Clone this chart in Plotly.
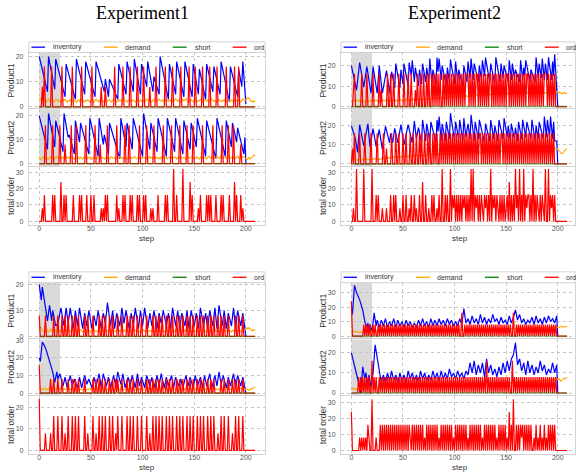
import plotly.graph_objects as go

N = 210
STEPS = list(range(N))
SHORT = [0] * N
TICK_STEPS = [0, 50, 100, 150, 200]
LEGEND_NAMES = ["inventory", "demand", "short", "ord"]
YLABELS = ["Product1", "Product2", "total order"]
TITLES = ["Experiment1", "Experiment2"]

# ================= Experiment1 (top-left) =================
A_p1_inv_x = [0,8,9,15,16,25,26,35,36,44,45,54,55,63,64,67,68,76,77,84,85,91,92,98,99,104,105,110,111,116,117,125,126,132,133,140,141,148,149,154,155,161,162,168,169,175,176,184,185,192,193,196,197,200]
A_p1_inv_y = [20,6,20,7,19,4,17,3,19,5,18,4,18,6,11,4,11,3,17,5,18,6,19,5,17,8,18,6,12,5,20,3,17,5,18,4,18,4,17,5,15,3,17,6,16,5,18,2,16,4,15,8,18,1]
A_p2_inv = [[0,20],[4,13],[8,6],[9,21],[15,7],[16,18],[23,5],[24,21],[28,11],[29,12],[34,4],[35,18],[39,9],[40,17],[48,4],[49,19],[57,3],[58,19],[62,8],[63,12],[67,4],[68,17],[78,2],[79,19],[84,7],[85,17],[90,6],[91,19],[100,3],[101,21],[107,6],[108,17],[114,5],[115,19],[123,3],[124,19],[131,5],[132,19],[139,4],[140,18],[146,6],[147,17],[152,7],[153,19],[161,3],[162,18],[171,2],[172,19],[180,3],[181,18],[186,7],[187,17],[191,9],[192,15],[198,4],[199,11],[200,0]]
A_p1_dem = [3.2,2.8,3.5,2.6,2.1,2.9,2.4,1.8,2.6,3.1, 2.2,2.7,3.4,2.5,1.9,2.3,3.0,2.6,2.1,2.8,
            2.4,1.7,2.2,2.9,2.5,3.1,2.3,1.9,2.6,2.2, 2.8,3.3,2.4,2.0,2.7,2.3,1.8,2.5,2.9,2.2,
            2.6,3.0,2.1,2.4,1.9,2.7,2.3,2.8,2.5,2.0, 2.4,2.9,2.2,1.8,2.6,3.1,2.4,2.0,2.7,2.3,
            2.8,2.2,1.9,2.5,3.0,2.6,2.1,2.4,2.9,2.3, 1.8,2.5,2.7,3.2,2.4,2.0,2.6,2.2,2.9,2.5,
            2.1,2.8,3.3,2.6,2.2,1.9,2.7,2.4,3.0,2.5, 2.2,2.8,2.4,1.9,2.6,3.1,2.5,2.1,2.7,2.3,
            2.9,2.4,2.0,2.6,3.2,2.5,2.1,2.8,2.4,1.9, 2.6,3.0,2.3,2.7,2.1,2.5,3.1,2.6,2.2,2.8,
            2.4,1.9,2.6,3.0,2.5,2.1,2.8,2.3,2.9,2.4, 2.0,2.7,3.2,2.6,2.2,2.8,2.4,1.8,2.5,2.9,
            2.3,2.7,3.3,2.5,2.1,2.6,2.2,2.9,2.4,2.0, 2.7,3.1,2.5,2.0,2.6,2.3,2.9,2.4,1.9,2.5,
            3.0,2.6,2.2,2.8,2.4,2.0,2.7,3.2,2.5,2.1, 2.6,2.3,1.8,2.4,2.9,2.5,2.1,2.7,2.3,2.8,
            2.4,1.9,2.6,3.1,2.5,2.2,2.8,2.4,2.0,2.6, 3.0,2.5,2.1,2.7,2.3,1.9,2.6,3.2,2.8,2.4,
            2.9,3.4,3.8,3.3,2.6,2.2,1.9,2.4,2.0,2.5]
A_p2_dem = [2.8,2.1,1.6,2.4,3.0,2.2,1.9,2.6,2.3,1.7, 2.5,2.9,2.0,2.4,1.8,2.7,2.2,2.5,3.1,2.3,
            1.9,2.6,2.1,2.8,2.4,1.7,2.3,2.9,2.2,2.6, 2.0,2.5,3.0,2.3,1.8,2.6,2.2,2.9,2.4,2.1,
            2.7,2.3,1.9,2.6,3.1,2.4,2.0,2.5,2.2,2.8, 2.4,1.8,2.5,2.9,2.2,2.6,2.0,2.4,3.0,2.3,
            2.1,2.7,2.4,1.9,2.5,2.8,2.2,2.6,2.0,2.4, 2.9,2.3,2.1,2.6,1.8,2.4,2.7,3.1,2.5,2.2,
            2.6,2.0,2.4,2.8,2.3,1.9,2.5,2.9,2.2,2.6, 2.1,2.4,3.0,2.5,2.0,2.3,2.8,2.4,1.9,2.6,
            2.3,2.7,2.2,2.5,1.9,2.8,2.4,3.0,2.2,2.6, 2.0,2.4,2.9,2.3,2.6,2.1,2.5,1.8,2.7,2.4,
            3.1,2.5,2.2,2.6,2.0,2.4,2.8,2.3,2.6,2.1, 2.5,2.9,2.4,1.9,2.6,2.2,2.7,3.0,2.4,2.1,
            2.6,2.3,1.8,2.5,2.9,2.4,2.2,2.7,3.2,2.5, 2.1,2.6,2.3,2.8,2.4,1.9,2.5,3.0,2.6,2.2,
            2.7,2.4,2.0,2.6,3.1,2.5,2.2,2.8,2.4,2.9, 2.3,2.6,3.2,2.5,2.1,2.8,3.4,2.6,2.3,2.9,
            2.5,2.2,2.8,3.3,2.6,2.1,2.7,3.0,2.4,2.8, 2.3,2.6,3.1,2.4,2.0,2.7,3.2,2.5,2.9,2.4,
            2.2,1.6,2.1,2.6,1.9,2.4,2.8,3.1,3.4,3.7]
A_p1_ord8 = [3,60,64,107]
A_p1_ord16 = [5,12,22,32,41,51,73,81,88,95,101,113,122,129,137,145,151,158,165,172,181,189,193]
A_p2_ord8 = [25,59,195]
A_p2_ord16 = [6,13,20,31,36,45,54,66,75,83,87,97,104,111,120,128,136,143,149,158,168,177,183,188]
A_tot8 = [3,60,62,77,108,110,154,197]
A_tot16 = [5,13,15,24,26,33,39,41,46,50,53,64,66,75,81,83,88,90,95,97,101,103,115,122,124,133,148,156,162,164,166,171,176,178,184,191,195]
A_tot24 = [21,146,189]
A_tot32 = [130,139]

# ================= Experiment2 (top-right) =================
B_p1_inv = [[0,20],[5,8],[8,21.5],[12,9.5],[15,19.5],[19,6.5],[21,19.5],[25,6.5],[27,20],[30,6.5],[34,17.5],[37,6.5],[39,17],[42,9],[43,21],[47,9],[48,18],[50,11],[51,21],[55,10],[56,21.5],[58,15],[59,22.6],[61,12],[62,19],[65,10],[66,18],[68,11],[69,21],[72,12],[73,19],[75,12],[76,23.4],[78,11],[79,18],[82,11],[83,23.9],[84,17],[85,23.4],[87,13],[88,20],[92,10],[93,19],[95,12],[96,23],[100,11],[101,22],[103,12],[104,18],[108,10],[109,20],[112,12],[113,22],[115,14],[116,23.4],[118,13],[119,21],[123,12],[124,20],[126,13],[127,22.6],[129,15],[130,23.9],[134,12],[135,21],[139,11],[140,24],[144,12],[145,21],[147,14],[148,20],[152,12],[153,22.6],[155,13],[156,21],[158,14],[159,18],[163,12],[164,22.6],[166,13],[167,19],[168,15],[169,22.6],[173,12],[174,18],[178,12],[179,24],[181,14],[182,21],[184,14],[185,23.4],[187,13],[188,21],[190,13],[191,24],[194,13],[195,22],[196,15],[197,25.5],[200,0]]
B_p2_inv = [[0,20],[4,12.8],[6,6],[8,20.5],[12,9.5],[16,21],[18,9],[21,18.5],[24,9],[27,18],[30,7.6],[33,19.7],[37,11],[38,16],[40,11],[42,18.6],[45,11],[48,20.5],[51,10],[55,20.5],[59,11],[61,22.4],[63,13],[65,19],[68,11],[69,23],[72,12],[73,21],[76,12],[77,22],[82,11],[83,23],[84,17],[85,24.8],[87,12],[88,21],[91,12],[92,22],[95,13],[96,26.5],[100,12],[101,22],[104,13],[105,23],[108,12],[109,24],[111,14],[113,21],[115,13],[116,25.7],[119,12],[120,22],[123,13],[124,23],[129,11],[130,21],[134,12],[135,23],[138,13],[139,20],[142,12],[143,23],[147,13],[148,24],[151,14],[152,20],[154,12],[155,21],[158,13],[159,19],[161,12],[162,22],[165,13],[166,23],[169,14],[170,22],[174,13],[175,23],[178,12],[179,20],[181,13],[182,22],[186,13],[187,24.8],[189,14],[190,23],[192,14],[193,24.8],[195,13],[196,22],[197,12],[199,12],[200,0]]
B_p1_dem = [3.2,2.6,3.4,2.9,2.3,3.1,2.7,3.3,2.5,3.0, 2.6,3.2,2.8,2.2,3.0,2.5,3.4,2.8,2.3,3.1,
            2.7,3.4,2.5,2.9,3.2,2.6,3.0,2.4,2.8,3.3, 2.7,3.1,2.6,3.0,3.5,2.8,2.5,3.2,2.9,2.6,
            3.2,2.8,3.4,2.9,2.6,3.3,3.0,3.6,3.1,2.8, 3.4,3.1,2.7,3.3,3.7,3.1,2.9,3.6,3.3,3.0,
            3.6,3.3,3.0,3.8,3.4,3.1,3.9,3.5,3.2,3.7, 3.4,4.0,3.6,3.3,3.9,3.5,4.1,3.7,3.5,4.1,
            3.7,4.3,3.9,3.6,4.2,4.0,4.4,4.0,3.8,4.4, 4.1,4.6,4.2,3.9,4.6,4.3,4.8,4.4,4.2,4.8,
            4.5,5.0,4.6,4.4,5.0,4.7,5.2,4.8,4.6,5.2, 4.9,5.4,5.0,4.8,5.4,5.1,5.6,5.2,5.0,5.6,
            5.3,5.8,5.4,5.2,5.8,5.5,6.0,5.6,5.4,5.9, 5.6,6.1,5.7,5.5,6.0,5.8,6.3,5.9,5.6,6.1,
            5.9,6.4,6.0,5.7,6.3,6.0,6.5,6.1,5.9,6.4, 6.1,6.6,6.2,5.9,6.5,6.2,6.7,6.3,6.0,6.6,
            6.3,6.8,6.4,6.1,6.7,6.4,6.9,6.5,6.2,6.8, 6.5,6.9,6.6,6.3,6.8,6.5,7.0,6.6,6.4,6.9,
            6.6,7.1,6.7,6.4,6.9,6.6,7.2,6.8,6.5,7.0, 6.7,7.2,6.9,6.6,7.3,7.0,7.5,7.2,6.9,7.3,
            7.0,6.7,7.1,6.5,6.2,6.5,6.9,6.3,6.5,6.7]
B_p2_dem = [3.3,2.8,2.3,2.7,2.0,2.4,1.9,2.6,2.1,2.3, 1.9,2.5,2.1,2.6,2.2,2.8,2.3,2.5,2.0,2.7,
            2.3,2.6,2.9,2.4,2.7,2.2,2.9,2.5,2.3,2.8, 2.6,3.0,2.7,3.1,3.4,2.9,3.3,3.1,3.5,3.2,
            3.4,3.8,3.3,3.6,3.2,3.8,3.5,3.4,3.9,3.7, 3.6,4.0,4.2,3.8,4.3,3.9,4.2,4.5,4.1,4.3,
            4.6,4.2,4.4,4.8,4.3,4.6,4.2,4.7,4.5,4.9, 4.6,4.3,4.8,4.6,5.0,4.5,4.8,5.1,4.7,4.9,
            4.8,5.2,4.9,4.6,5.1,5.0,5.3,4.9,5.1,5.4, 5.0,5.3,5.5,5.1,5.4,5.2,5.6,5.3,5.0,5.5,
            5.5,5.2,5.7,5.4,5.6,5.3,5.8,5.5,5.4,5.9, 5.6,5.8,5.5,6.0,5.7,5.5,5.9,5.8,6.1,5.7,
            6.0,5.7,6.2,5.9,6.3,6.0,5.8,6.2,6.1,6.4, 6.1,6.3,6.0,6.5,6.2,6.4,6.1,6.6,6.3,6.5,
            6.7,6.3,6.5,6.2,6.8,6.5,6.7,6.4,6.9,6.6, 6.8,6.5,7.0,6.7,7.1,6.7,6.9,7.3,6.9,7.1,
            7.3,7.0,7.1,7.4,7.0,7.3,7.2,7.5,7.1,7.4, 7.2,7.6,7.3,7.5,7.2,7.7,7.4,7.6,7.8,7.5,
            7.7,7.4,7.8,7.6,7.9,7.5,7.7,8.0,7.6,7.9, 7.7,8.0,7.6,8.1,7.8,8.2,7.9,8.1,8.3,8.1,
            7.6,7.2,6.4,5.6,5.4,5.7,6.6,7.2,7.6,7.9]
B_p1_ord8 = [2,29,62]
B_p1_ord16 = [3,10,15,21,27,35,38,41,46,51,55,58,64,67,70,73,75,78,80,82,84,86,89,91,93,95,97,99,101,103,105,107,109,111,112,113,115,117,119,121,122,124,126,128,130,132,134,135,137,139,141,143,145,147,149,151,152,154,156,158,160,162,164,166,168,170,171,173,175,177,179,181,183,185,187,188,189,191,193,195,197]
B_p2_ord8 = [1,34]
B_p2_ord16 = [3,8,13,19,25,31,39,43,46,50,53,57,60,63,66,68,71,74,76,79,81,83,86,88,90,92,94,96,98,100,102,104,106,108,110,112,114,116,118,120,122,124,125,127,129,131,133,135,137,139,141,143,145,146,148,150,152,154,156,158,160,162,164,166,168,170,172,174,176,178,180,182,184,186,188,190,192,194,196]
B_tot8 = [2,30,34,47,56,63,75,83,99,109,121,127,130,138,142,150,160,170,181,186,194]
B_tot16 = [24,26,38,41,43,50,53,58,61,66,72,78,80,85,91,93,98,100,102,104,106,108,110,112,114,120,122,124,126,129,131,133,137,139,141,144,146,148,151,155,157,161,165,169,171,172,174,178,180,183,185,193,195,197]
B_tot24 = [69,153]
B_tot32 = [5,12,20,88,96,116,118,135,159,163,167,176,188,191]

# ================= Experiment1 (bottom-left) =================
C_p1_inv_x = [0,2,3,6,8,10,12,13,16,18,21,24,26,28,30,33,35,37,39,42,44,46,48,51,53,55,57,60,62,64,66,69,71,73,75,78,80,82,84,87,89,91,93,96,98,100,102,105,107,109,111,114,116,118,120,123,125,127,129,132,134,136,138,141,143,145,147,150,152,154,156,159,161,163,165,168,170,172,174,177,179,181,183,186,188,190,192,195,197,200]
C_p1_inv_y = [20,14,19,12,6,12,6,10,4,5,11,4,11,5,11,3,10,4,11,3,9,4,10,3,8,4,10,3,9,5,13,4,10,3,9,4,11,5,10,3,9,4,11,3,10,4,11,3,9,4,10,3,9,5,10,4,9,3,11,4,10,3,9,4,10,3,10,4,9,3,11,4,9,3,10,4,11,3,12,4,10,3,9,4,11,3,10,4,9,0]
C_p2_inv_x = [0,1,3,5,7,9,11,13,15,17,18,20,23,25,27,30,32,34,37,39,41,44,46,48,51,53,55,58,60,62,65,67,69,72,74,76,79,81,83,86,88,90,93,95,97,99,102,104,107,109,111,114,116,118,121,123,125,128,130,132,135,137,139,142,144,146,149,151,153,156,158,160,162,165,167,170,172,174,176,178,181,183,185,188,190,192,195,197,199,200]
C_p2_inv_y = [20,18,29,27,24,20,16,12,6,12,8,11,4,9,3,10,4,8,3,9,3,10,5,8,3,9,4,11,3,11,4,9,3,10,4,12,5,11,3,9,4,10,3,11,4,9,3,10,4,9,3,10,4,11,3,9,4,10,3,9,4,8,3,10,4,9,3,10,4,9,3,10,4,11,3,10,4,12,5,10,3,9,4,11,3,10,4,9,3,0]
C_p1_dem = [2.4,3.6,3.3,2.5,1.8,2.2,1.5,2.6,2.0,1.7, 2.3,2.8,1.9,2.5,2.1,1.6,2.4,2.0,2.7,1.8,
            2.2,1.7,2.5,2.0,1.6,2.3,2.8,2.1,1.8,2.4, 2.0,1.6,2.2,2.7,2.1,1.8,2.4,2.0,1.7,2.3,
            2.6,2.0,1.7,2.2,1.9,2.5,2.1,1.6,2.3,2.0, 1.8,2.4,2.0,2.6,2.1,1.7,2.2,1.9,2.5,2.0,
            1.6,2.3,2.0,2.7,2.2,1.8,2.1,2.5,1.9,2.2, 2.0,1.7,2.4,2.1,1.8,2.6,2.2,1.9,2.3,2.0,
            1.7,2.2,2.5,2.0,1.8,2.3,2.1,1.6,2.4,2.0, 2.2,1.8,2.6,2.1,1.9,2.3,2.0,1.7,2.4,2.1,
            1.9,2.5,2.0,1.7,2.2,2.6,2.1,1.8,2.3,2.0, 2.4,1.9,2.2,2.0,1.7,2.5,2.1,1.8,2.3,2.6,
            2.0,1.8,2.2,2.4,1.9,2.1,2.6,2.0,1.7,2.3, 2.1,1.9,2.5,2.0,1.8,2.2,2.4,1.9,2.1,1.7,
            2.3,2.0,2.6,2.1,1.8,2.4,2.0,1.7,2.2,2.5, 1.9,2.1,2.4,2.0,1.8,2.3,2.6,2.1,1.9,2.2,
            2.0,1.7,2.4,2.1,2.5,1.9,2.2,2.0,1.8,2.3, 2.6,2.1,1.9,2.4,2.0,1.7,2.2,2.5,2.0,1.8,
            2.3,2.1,2.6,1.9,2.2,2.0,1.7,2.4,2.1,2.5, 1.9,2.2,2.0,2.6,2.3,1.8,2.4,2.8,2.2,2.5,
            2.9,3.3,2.8,3.4,3.0,2.4,2.1,2.6,2.3,2.7]
C_p2_dem = [2.6,3.2,2.4,1.8,2.3,2.9,2.0,1.6,2.4,2.8, 2.1,1.7,2.5,3.0,2.2,1.8,2.4,2.0,1.6,2.3,
            2.7,2.1,1.8,2.4,2.0,2.6,1.9,2.2,1.7,2.3, 2.0,2.5,1.8,2.2,2.7,2.0,1.7,2.3,2.1,1.9,
            2.4,2.0,1.6,2.2,2.6,2.1,1.8,2.3,2.0,2.5, 1.9,2.2,2.0,1.7,2.4,2.1,2.6,1.9,2.2,2.0,
            2.3,1.8,2.1,2.5,2.0,1.7,2.2,2.4,1.9,2.1, 2.5,2.0,1.8,2.3,2.1,1.9,2.6,2.2,1.8,2.4,
            2.0,2.3,1.7,2.1,2.5,2.0,1.8,2.4,2.2,1.9, 2.1,2.6,2.0,1.8,2.3,2.1,1.7,2.4,2.0,2.2,
            2.5,1.9,2.1,2.3,1.8,2.0,2.6,2.2,1.9,2.4, 2.0,1.7,2.3,2.1,2.5,1.9,2.2,2.0,1.8,2.4,
            2.1,2.6,1.9,2.2,2.0,1.7,2.4,2.1,2.3,1.9, 2.2,2.5,2.0,1.8,2.3,2.1,1.9,2.4,2.2,2.0,
            1.7,2.3,2.6,2.0,2.2,1.9,2.4,2.1,1.8,2.3, 2.5,2.0,1.8,2.2,2.4,2.0,1.7,2.3,2.1,2.6,
            1.9,2.2,2.0,2.4,1.8,2.1,2.5,2.0,2.3,1.9, 2.2,2.6,2.0,1.8,2.4,2.1,2.3,1.9,2.5,2.2,
            2.0,2.4,1.8,2.3,2.6,2.1,1.9,2.2,2.4,2.0, 2.3,1.9,2.5,2.1,2.2,2.7,2.0,2.4,2.6,2.2,
            1.8,2.4,2.1,1.6,2.3,2.0,2.6,2.9,3.4,3.6]
C_p1_ord8 = [0,6,14,18,22,25,28,32,35,38,44,47,52,58,61,64,68,71,76,80,85,88,91,95,99,104,110,113,116,119,123,126,129,133,136,139,143,146,149,153,156,159,163,166,169,173,176,179,183,190,193,197]
C_p1_ord16 = []
C_p2_ord8 = [11,14,18,22,28,32,35,38,44,52,55,58,61,64,68,71,74,76,80,85,88,91,95,99,104,107,110,113,116,119,123,126,129,133,136,139,143,146,149,153,156,159,163,166,169,176,179,183,187,190,193,197]
C_p2_ord16 = [0]
C_tot8 = [6,11,25,47,55,74,107,173,187]
C_tot16 = [14,18,22,28,32,35,38,44,52,58,61,64,68,71,76,80,85,88,91,95,99,104,110,113,116,119,123,126,129,133,136,139,143,146,149,153,156,159,163,166,169,176,179,183,190,193,197]
C_tot24 = [0]
C_tot32 = []

# ================= Experiment2 (bottom-right) =================
D_p1_inv = [[0,20],[1,15],[3,35],[5,30],[8,25],[11,18],[13,10],[15,6],[16,9],[17,3],[18,8],[20,3],[22,16],[24,7],[25,11],[27,6],[29,11],[31,7],[33,12],[35,6],[37,10],[39,7],[41,12],[43,6],[45,11],[47,7],[49,10],[51,6],[53,11],[55,7],[57,10],[59,6],[61,9],[63,6],[65,11],[67,7],[69,12],[71,7],[73,10],[75,6],[77,12],[79,7],[81,11],[83,7],[85,12],[87,8],[89,11],[91,7],[93,12],[95,8],[97,11],[99,7],[101,10],[103,7],[105,12],[107,8],[109,19],[111,9],[113,12],[115,8],[117,14],[119,9],[121,12],[123,8],[125,15],[127,9],[129,13],[131,8],[133,12],[135,9],[137,15],[139,10],[141,12],[143,8],[145,13],[147,9],[149,11],[151,8],[153,14],[155,9],[157,13],[159,18],[161,11],[163,15],[165,9],[167,12],[169,8],[171,11],[173,9],[175,13],[177,8],[179,14],[181,9],[183,12],[185,8],[187,13],[189,9],[191,14],[193,10],[195,12],[197,9],[199,14],[200,0]]
D_p2_inv = [[0,20],[2,16],[4,12],[6,8],[8,3],[9,0],[10,6],[11,13],[13,7],[14,10],[16,4],[17,9],[19,3],[21,10],[23,24],[25,18],[27,12],[29,5],[31,9],[33,5],[35,10],[37,6],[39,11],[41,6],[43,9],[45,5],[47,10],[49,6],[51,9],[53,5],[55,11],[57,7],[59,10],[61,6],[63,9],[65,5],[67,11],[69,7],[71,10],[73,6],[75,9],[77,6],[79,11],[81,7],[83,10],[85,6],[87,11],[89,7],[91,10],[93,7],[95,12],[97,8],[99,10],[101,7],[103,11],[105,8],[107,10],[109,7],[111,11],[113,9],[115,15],[117,10],[119,16],[121,9],[123,14],[125,10],[127,15],[129,8],[131,17],[133,10],[135,14],[137,9],[139,12],[141,8],[143,13],[145,9],[147,15],[149,10],[151,16],[153,11],[155,17],[157,19],[159,25],[161,14],[163,17],[165,11],[167,15],[169,9],[171,16],[173,10],[175,14],[177,9],[179,13],[181,10],[183,16],[185,11],[187,14],[189,9],[191,12],[193,10],[195,15],[197,10],[199,14],[200,0]]
D_p1_dem = [3.4,2.9,3.6,3.1,2.6,3.3,2.8,3.0,2.5,2.9, 2.7,3.2,2.6,3.0,3.5,2.8,3.4,3.1,3.7,3.3,
            3.6,3.1,3.5,2.9,3.3,3.7,3.0,3.4,2.8,3.2, 3.5,3.0,2.7,3.3,3.1,2.8,3.4,3.0,3.6,3.2,
            2.9,3.3,3.0,3.5,3.1,3.7,3.2,2.9,3.4,3.1, 3.6,3.2,3.0,3.5,3.3,3.8,3.4,3.1,3.6,3.3,
            3.7,3.4,3.2,3.8,3.5,3.3,3.9,3.6,3.4,3.8, 3.5,3.9,3.6,3.3,4.0,3.7,3.5,4.1,3.8,3.6,
            4.0,3.7,4.2,3.9,3.6,4.1,3.8,4.3,4.0,3.8, 4.2,3.9,4.4,4.1,3.8,4.3,4.0,4.5,4.2,3.9,
            4.4,4.1,4.6,4.3,4.0,4.5,4.2,4.7,4.4,4.1, 4.6,4.3,4.8,4.5,4.2,4.7,4.4,4.9,4.6,4.3,
            4.8,4.5,5.0,4.6,4.3,4.9,4.6,5.1,4.7,4.4, 4.9,4.6,5.2,4.8,4.5,5.0,4.7,5.3,4.9,4.6,
            5.1,4.8,5.4,5.0,4.7,5.2,4.9,5.5,5.1,4.8, 5.3,5.0,5.6,5.2,4.9,5.4,5.1,5.7,5.3,5.0,
            5.5,5.2,5.8,5.4,5.1,5.6,5.3,5.9,5.5,5.2, 5.7,5.4,6.0,5.6,5.3,5.8,5.5,6.1,5.7,5.4,
            5.8,5.5,6.1,5.7,5.4,5.9,5.6,6.2,5.8,5.5, 5.9,5.6,6.2,5.8,5.5,6.0,5.7,6.3,5.9,5.7,
            6.1,5.8,6.4,6.9,6.5,6.2,6.7,6.3,6.6,6.4]
D_p2_dem = [2.1,2.6,1.8,2.2,1.6,2.0,1.5,1.9,2.3,1.7, 1.5,2.0,2.4,1.8,2.2,2.6,2.0,2.3,1.9,2.5,
            2.2,2.7,2.1,2.4,2.8,2.2,2.5,2.0,2.6,2.3, 2.7,2.2,2.5,2.9,2.3,2.6,2.1,2.7,2.4,2.8,
            2.3,2.6,2.9,2.4,2.7,2.2,2.8,2.5,2.9,2.4, 2.6,3.0,2.5,2.8,3.2,2.7,3.0,2.6,3.1,2.8,
            3.2,2.9,3.3,2.8,3.1,3.4,3.0,3.3,2.9,3.4, 3.1,3.5,3.2,3.0,3.6,3.3,3.1,3.7,3.4,3.2,
            3.6,3.3,3.8,3.5,3.2,3.7,3.4,3.9,3.6,3.3, 3.8,3.5,4.0,3.7,3.4,3.9,3.6,4.1,3.8,3.5,
            4.0,3.7,4.2,3.9,3.6,4.1,3.8,4.3,4.0,3.7, 4.2,3.9,4.4,4.1,3.8,4.3,4.0,4.5,4.2,4.6,
            4.7,4.4,4.9,4.5,4.2,4.8,4.5,5.0,4.6,4.3, 4.8,4.5,5.1,4.7,4.4,5.0,4.6,5.2,4.8,4.5,
            5.0,4.7,5.3,4.9,4.6,5.2,4.8,5.4,5.0,4.7, 5.2,4.9,5.5,5.1,4.8,5.4,5.0,5.6,5.2,4.9,
            5.5,5.2,5.8,5.4,5.1,5.7,5.3,5.9,5.6,5.3, 5.8,5.5,6.1,5.7,5.4,6.0,5.6,6.2,5.9,5.6,
            6.1,5.8,6.4,6.0,5.7,6.3,5.9,6.5,6.2,5.9, 6.5,6.2,6.8,6.4,6.1,6.7,6.3,6.9,6.6,7.0,
            6.8,7.2,6.6,5.9,6.3,7.0,7.4,7.1,7.6,7.8]
D_p1_ord8 = [12,14,16,18,21,23,26,28,30,32,34,36,38,40,42,44,46,48,50,52,54,56,58,60,62,64,66,68,70,72,74,76,78,80,82,84,86,88,90,92,94,96,98,100,102,104,110,112,114,116,118,120,122,124,126,128,130,132,134,136,138,140,142,144,146,148,150,152,154,160,162,164,166,168,170,172,174,176,178,180,182,184,186,188,190,192,194,196,198]
D_p1_ord16 = [107,157]
D_p1_ord24 = [0]
D_p2_ord8 = [7,9,11,13,15,17,22,24,27,29,31,33,35,37,39,41,43,45,47,49,51,53,55,57,59,61,63,65,67,69,71,73,75,77,79,81,83,85,87,89,91,93,95,97,99,101,103,105,107,109,111,113,115,117,119,121,123,125,127,129,133,135,137,139,141,143,145,147,149,151,153,158,160,162,164,166,168,170,172,174,176,178,180,182,184,186,188,190,192,194,196,198]
D_p2_ord16 = [20,131,156]
D_tot8 = [8,10,12,14,17,24,57,71,85,99,113,127,141,151,165,177,181,185,189]
D_tot16 = [16,28,30,32,34,36,38,40,42,44,46,48,50,52,54,56,59,61,63,65,67,69,73,75,77,79,81,83,87,89,91,93,95,97,101,103,105,107,109,111,115,117,119,121,123,125,129,131,133,135,137,139,143,145,147,149,155,160,162,164,166,168,170,172,174,179,183,187,191,193,195,197]
D_tot24 = [0,153]
D_tot32 = [20,157]


# ---------------- helpers ----------------
def dense(*groups):
    arr = [0] * N
    for val, steps in groups:
        for s in steps:
            arr[s] = val
    return arr


def split(pairs):
    return [p[0] for p in pairs], [p[1] for p in pairs]


W, H = 576, 474
FONT = "Liberation Sans, Arial, sans-serif"
C_INV, C_DEM, C_SHORT, C_ORD = "#0000ff", "#ffa500", "#008000", "#ff0000"

A_p2_x, A_p2_y = split(A_p2_inv)
B_p1_x, B_p1_y = split(B_p1_inv)
B_p2_x, B_p2_y = split(B_p2_inv)
D_p1_x, D_p1_y = split(D_p1_inv)
D_p2_x, D_p2_y = split(D_p2_inv)

panels = [
    dict(L=29, R=265.5, leg=(39.3, 50), rows=[(50, 106.5), (107.5, 165), (166, 224)],
         xr=[-9.95, 218.5], title=TITLES[0], tx=143,
         yr=[[-0.6, 21.6], [-1.1, 22.7], [-2.0, 33.0]],
         inv=[(A_p1_inv_x, A_p1_inv_y), (A_p2_x, A_p2_y)],
         dem=[A_p1_dem, A_p2_dem],
         ord=[dense((8, A_p1_ord8), (16, A_p1_ord16)), dense((8, A_p2_ord8), (16, A_p2_ord16))],
         tot=dense((8, A_tot8), (16, A_tot16), (24, A_tot24), (32, A_tot32))),
    dict(L=341.7, R=576, leg=(39.3, 50), rows=[(50, 106.5), (107.5, 165), (166, 224)],
         xr=[-9.97, 216.7], title=TITLES[1], tx=455.5,
         yr=[[-0.9, 26.4], [-1.2, 28.5], [-2.0, 33.0]],
         inv=[(B_p1_x, B_p1_y), (B_p2_x, B_p2_y)],
         dem=[B_p1_dem, B_p2_dem],
         ord=[dense((8, B_p1_ord8), (16, B_p1_ord16)), dense((8, B_p2_ord8), (16, B_p2_ord16))],
         tot=dense((8, B_tot8), (16, B_tot16), (24, B_tot24), (32, B_tot32))),
    dict(L=29, R=265.5, leg=(271.7, 282.7), rows=[(283, 339), (340, 396), (397.5, 455.5)],
         xr=[-9.95, 218.5], title=None, tx=None,
         yr=[[-0.8, 20.6], [-1.0, 30.5], [-1.5, 25.1]],
         inv=[(C_p1_inv_x, C_p1_inv_y), (C_p2_inv_x, C_p2_inv_y)],
         dem=[C_p1_dem, C_p2_dem],
         ord=[dense((8, C_p1_ord8), (16, C_p1_ord16)), dense((8, C_p2_ord8), (16, C_p2_ord16))],
         tot=dense((8, C_tot8), (16, C_tot16), (24, C_tot24), (32, C_tot32))),
    dict(L=341.7, R=576, leg=(271.7, 282.7), rows=[(283, 339), (340, 396), (397.5, 455.5)],
         xr=[-9.97, 216.7], title=None, tx=None,
         yr=[[-1.6, 36.6], [-0.9, 26.7], [-2.0, 33.8]],
         inv=[(D_p1_x, D_p1_y), (D_p2_x, D_p2_y)],
         dem=[D_p1_dem, D_p2_dem],
         ord=[dense((8, D_p1_ord8), (16, D_p1_ord16), (24, D_p1_ord24)), dense((8, D_p2_ord8), (16, D_p2_ord16))],
         tot=dense((8, D_tot8), (16, D_tot16), (24, D_tot24), (32, D_tot32))),
]

fig = go.Figure()
shapes, annos, layout_axes = [], [], {}


def px(x):
    return x / W


def py(y):
    return 1 - y / H


k = 0
for p in panels:
    L, R = p["L"], p["R"]
    for r in range(3):
        k += 1
        top, bot = p["rows"][r]
        sfx = "" if k == 1 else str(k)
        xa, ya = "x" + sfx, "y" + sfx
        xname, yname = "xaxis" + sfx, "yaxis" + sfx
        is_bottom = (r == 2)
        layout_axes[xname] = dict(
            domain=[px(L), min(1.0, px(R))], anchor=ya, range=p["xr"],
            tickvals=TICK_STEPS, showticklabels=is_bottom, ticks="", ticklabelstandoff=-3,
            showgrid=True, gridcolor="#c4c4c4", griddash="dot", gridwidth=1,
            zeroline=False, showline=True, mirror=True, linecolor="#d2d2d2", linewidth=1.2,
            tickfont=dict(family=FONT, size=7, color="#555555"),
        )
        layout_axes[yname] = dict(
            domain=[py(bot), py(top)], anchor=xa, range=p["yr"][r],
            tick0=0, dtick=10, ticks="", ticklabelstandoff=3,
            showgrid=True, gridcolor="#c4c4c4", griddash="dot", gridwidth=1,
            zeroline=False, showline=True, mirror=True, linecolor="#d2d2d2", linewidth=1.2,
            tickfont=dict(family=FONT, size=7, color="#555555"),
        )
        annos.append(dict(text=YLABELS[r], x=px(L - 18), y=py((top + bot) / 2),
                          xref="paper", yref="paper", textangle=-90, showarrow=False,
                          xanchor="center", yanchor="middle",
                          font=dict(family=FONT, size=8.5, color="#333333")))
        if r < 2:
            shapes.append(dict(type="rect", xref=xa, yref=ya + " domain", x0=0, x1=20, y0=0, y1=1,
                               fillcolor="#d9d9d9", line=dict(width=0), layer="below"))
            ix, iy = p["inv"][r]
            fig.add_trace(go.Scatter(x=ix, y=iy, mode="lines", line=dict(color=C_INV, width=1.2),
                                     xaxis=xa, yaxis=ya))
            fig.add_trace(go.Scatter(x=STEPS, y=p["dem"][r], mode="lines", line=dict(color=C_DEM, width=1.1),
                                     xaxis=xa, yaxis=ya))
            fig.add_trace(go.Scatter(x=STEPS, y=p["ord"][r], mode="lines", line=dict(color=C_ORD, width=1.2),
                                     xaxis=xa, yaxis=ya))
            fig.add_trace(go.Scatter(x=STEPS, y=SHORT, mode="lines", line=dict(color=C_SHORT, width=1.4),
                                     opacity=0.45, xaxis=xa, yaxis=ya))
        else:
            fig.add_trace(go.Scatter(x=STEPS, y=p["tot"], mode="lines", line=dict(color=C_ORD, width=1.2),
                                     xaxis=xa, yaxis=ya))
            annos.append(dict(text="step", x=px((L + (R if R < 576 else 579)) / 2), y=py(bot + 14),
                              xref="paper", yref="paper", showarrow=False,
                              xanchor="center", yanchor="middle",
                              font=dict(family=FONT, size=8, color="#333333")))
    # legend box
    lt, lb = p["leg"]
    shapes.append(dict(type="rect", xref="paper", yref="paper", x0=px(L), x1=min(1.0, px(R)),
                       y0=py(lb), y1=py(lt), line=dict(color="#d2d2d2", width=1), fillcolor="white"))
    ym = (lt + lb) / 2
    for name, color, (l0, l1, tx) in zip(LEGEND_NAMES, [C_INV, C_DEM, C_SHORT, C_ORD],
                                         [(2.5, 16, 22), (75, 89, 94.5), (144, 158, 164), (204, 218, 223.5)]):
        shapes.append(dict(type="line", xref="paper", yref="paper", x0=px(L + l0), x1=px(L + l1),
                           y0=py(ym), y1=py(ym), line=dict(color=color, width=1.3)))
        annos.append(dict(text=name, x=px(L + tx), y=py(ym), xref="paper", yref="paper",
                          showarrow=False, xanchor="left", yanchor="middle",
                          font=dict(family=FONT, size=7, color="#333333")))
    if p["title"]:
        annos.append(dict(text=p["title"], x=px(p["tx"]), y=py(10.5),
                          xref="paper", yref="paper", showarrow=False, xanchor="center", yanchor="middle",
                          font=dict(family="Liberation Serif, Times New Roman, serif", size=18, color="#000000")))

fig.update_traces(showlegend=False, hoverinfo="skip")
fig.update_layout(width=W, height=H, margin=dict(l=0, r=0, t=0, b=0),
                  paper_bgcolor="white", plot_bgcolor="white", showlegend=False,
                  shapes=shapes, annotations=annos, **layout_axes)
fig.write_html("out.html", config={"displayModeBar": False},
               post_script="document.body.style.margin='0px';document.body.style.overflow='hidden';")
